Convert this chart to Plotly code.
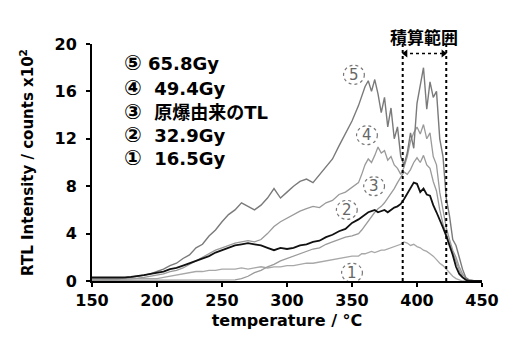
import plotly.graph_objects as go

temperature = [150, 155, 160, 165, 170, 175, 180, 185, 190, 195, 200, 205, 210, 215, 220, 225,
               230, 235, 240, 245, 250, 255, 260, 265, 270, 275, 280, 285, 290, 295, 300, 305,
               310, 315, 320, 325, 330, 335, 340, 345, 350, 355,
               357.5, 360, 362.5, 365, 367.5, 370, 372.5, 375, 377.5, 380, 382.5, 385, 387.5,
               390, 392.5, 395, 397.5, 400, 402.5, 405, 407.5, 410, 412.5, 415, 417.5, 420,
               422.5, 425, 427.5, 430, 432.5, 435, 437.5, 440, 445, 450]

s5_658 = [0.2, 0.2, 0.2, 0.15, 0.2, 0.25, 0.3, 0.4, 0.5, 0.6, 0.8, 1.0, 1.3, 1.5, 1.9, 2.2,
          2.8, 3.1, 3.8, 4.3, 5.0, 5.6, 6.0, 6.6, 6.3, 6.0, 6.4, 7.0, 7.8, 7.0, 7.5, 8.0,
          8.4, 8.6, 8.3, 9.0, 9.6, 10.3, 11.4, 12.4, 13.5, 14.8,
          15.6, 16.4, 16.9, 16.0, 17.0, 15.8, 14.2, 15.5, 13.0, 14.6, 12.0, 13.0, 10.5,
          9.8, 10.8, 12.5, 11.2, 15.0, 16.5, 18.0, 14.5, 16.8, 15.5, 16.0, 12.0, 10.5,
          7.0, 5.5, 3.5, 3.0, 2.0, 1.0, 0.3, 0.1, 0.0, 0.0]

s4_494 = [0.2, 0.2, 0.2, 0.2, 0.2, 0.2, 0.2, 0.25, 0.3, 0.4, 0.5, 0.6, 0.8, 0.9, 1.1, 1.4,
          1.7, 2.0, 2.3, 2.6, 2.8, 3.0, 3.2, 3.3, 3.4, 3.3, 3.5, 4.0, 4.6, 5.0, 5.3, 5.6,
          5.9, 6.1, 6.3, 6.2, 6.6, 6.8, 7.3, 7.5, 7.9, 8.3,
          9.0, 9.8, 10.3, 10.0, 10.6, 11.3, 10.8, 11.0, 10.2, 10.5, 9.8, 9.5, 9.0,
          9.6, 10.5, 11.8, 12.5, 13.0, 12.4, 13.2, 12.0, 12.5, 10.5, 9.8, 7.5, 6.0,
          4.5, 3.5, 2.6, 2.0, 1.2, 0.6, 0.2, 0.1, 0.0, 0.0]

s3_abomb = [0.3, 0.3, 0.25, 0.3, 0.3, 0.3, 0.35, 0.4, 0.5, 0.6, 0.7, 0.8, 1.0, 1.1, 1.3, 1.5,
            1.7, 1.9, 2.1, 2.4, 2.6, 2.8, 3.0, 3.1, 3.2, 3.1, 3.0, 2.8, 2.6, 2.8, 2.7, 2.8,
            3.0, 3.1, 3.3, 3.4, 3.7, 3.9, 4.2, 4.4, 4.9, 5.2,
            5.4, 5.6, 5.8, 5.9, 6.0, 5.8, 5.9, 6.0, 5.8, 6.0, 6.2, 6.3, 6.5,
            6.9, 7.4, 7.8, 8.3, 8.2, 7.5, 7.8, 7.3, 7.2, 6.4, 5.8, 5.2, 4.5,
            3.8, 3.0, 2.2, 1.2, 0.6, 0.3, 0.1, 0.0, 0.0, 0.0]

s2_329 = [0.05, 0.05, 0.05, 0.05, 0.05, 0.05, 0.05, 0.05, 0.05, 0.05, 0.05, 0.05, 0.05, 0.05, 0.05, 0.05,
          0.05, 0.05, 0.05, 0.05, 0.05, 0.05, 0.1, 0.2, 0.4, 0.7, 0.9, 1.2, 1.4, 1.7, 1.9, 2.1,
          2.3, 2.5, 2.7, 2.8, 3.1, 3.3, 3.5, 3.7, 3.8, 4.0,
          4.3, 4.7, 5.0, 5.4, 5.8, 6.1, 6.3, 6.6, 7.0, 7.3, 7.8, 8.3, 8.8,
          9.2, 9.0, 9.4, 10.0, 10.4, 10.0, 10.6, 9.8, 9.5, 8.4, 7.6, 6.0, 4.8,
          4.0, 3.2, 2.5, 1.6, 0.9, 0.4, 0.1, 0.0, 0.0, 0.0]

s1_165 = [0.1, 0.1, 0.1, 0.15, 0.1, 0.15, 0.15, 0.2, 0.2, 0.2, 0.2, 0.3, 0.4, 0.5, 0.6, 0.7,
          0.8, 0.8, 0.9, 0.9, 1.0, 1.0, 1.0, 1.1, 1.0, 1.1, 1.2, 1.1, 1.2, 1.2, 1.3, 1.3,
          1.4, 1.5, 1.5, 1.6, 1.7, 1.8, 1.9, 2.0, 2.1, 2.1,
          2.3, 2.3, 2.4, 2.5, 2.4, 2.5, 2.6, 2.6, 2.7, 2.8, 2.9, 3.0, 3.1,
          3.3, 3.2, 3.0, 3.1, 2.9, 2.8, 2.6, 2.5, 2.3, 2.1, 1.8, 1.5, 1.3,
          1.0, 0.7, 0.4, 0.2, 0.1, 0.0, 0.0, 0.0, 0.0, 0.0]

legend_marks = ["⑤", "④", "③", "②", "①"]
legend_texts = ["65.8Gy", " 49.4Gy", " 原爆由来のTL", " 32.9Gy", " 16.5Gy"]
legend_y = [18.4, 16.3, 14.3, 12.3, 10.4]

curve_labels = ["5", "4", "3", "2", "1"]
curve_label_x = [351.5, 361.5, 367, 346, 350]
curve_label_y = [17.4, 12.3, 8.0, 6.0, 0.7]

x_ticks = [150, 200, 250, 300, 350, 400, 450]
y_ticks = [0, 4, 8, 12, 16, 20]

range_lo, range_hi = 389, 422.5
range_arrow_y = 19.2

FONT = "DejaVu Sans, Noto Sans CJK JP, sans-serif"
CJK = "Noto Sans CJK JP, sans-serif"

fig = go.Figure()
series = [
    (s1_165, "#a8a8a8", 1.3),
    (s2_329, "#9a9a9a", 1.3),
    (s4_494, "#9a9a9a", 1.3),
    (s5_658, "#7a7a7a", 1.4),
    (s3_abomb, "#111111", 1.8),
]
for ys, col, w in series:
    fig.add_trace(go.Scatter(x=temperature, y=ys, mode="lines",
                             line=dict(color=col, width=w), showlegend=False,
                             hoverinfo="skip"))

# integration range lines
for xv, top in [(range_lo, 20.3), (range_hi, 20.8)]:
    fig.add_shape(type="line", x0=xv, x1=xv, y0=0, y1=top, xref="x", yref="y",
                  line=dict(color="black", width=2, dash="dot"))
fig.add_shape(type="line", x0=range_lo + 1, x1=range_hi - 1, y0=range_arrow_y, y1=range_arrow_y,
              xref="x", yref="y", line=dict(color="black", width=1.5, dash="dot"))
fig.add_trace(go.Scatter(x=[range_lo + 2.2, range_hi - 2.2], y=[range_arrow_y, range_arrow_y],
                         mode="markers", showlegend=False, hoverinfo="skip",
                         marker=dict(symbol=["triangle-left", "triangle-right"], size=7,
                                     color="black", line=dict(width=0))))
fig.add_annotation(x=(range_lo + range_hi) / 2, y=1.093, xref="x", yref="paper",
                   text="<b>積算範囲</b>", showarrow=False,
                   font=dict(family=CJK, size=17, color="black"))

# legend block
for mk, txt, yv in zip(legend_marks, legend_texts, legend_y):
    fig.add_annotation(x=173, y=yv, xref="x", yref="y",
                       text="<b><span style='font-size:21px'>" + mk + "</span> " + txt + "</b>",
                       showarrow=False, xanchor="left", yanchor="middle",
                       font=dict(family=FONT, size=18, color="black"))

# curve labels in dotted circles
for lab, xv, yv in zip(curve_labels, curve_label_x, curve_label_y):
    fig.add_shape(type="circle", x0=xv - 8, x1=xv + 8, y0=yv - 0.8, y1=yv + 0.8,
                  xref="x", yref="y", line=dict(color="#777777", width=1.2, dash="dot"))
    fig.add_annotation(x=xv, y=yv, xref="x", yref="y", text=lab, showarrow=False,
                       font=dict(family=FONT, size=15, color="#666666"))

fig.update_layout(
    width=511, height=345,
    margin=dict(l=92, r=27, t=44, b=64),
    paper_bgcolor="white", plot_bgcolor="white",
    font=dict(family=FONT, color="black"),
)
fig.update_xaxes(range=[150, 450], tickvals=x_ticks, ticktext=[str(v) for v in x_ticks],
                 showline=True, linecolor="black", linewidth=2, ticks="outside",
                 ticklen=4, tickwidth=2, tickcolor="black", showgrid=False, zeroline=False,
                 tickfont=dict(family=FONT, size=16, weight="bold"),
                 title=dict(text="<b>temperature / °C</b>", font=dict(family=FONT, size=16),
                            standoff=6))
fig.update_yaxes(range=[0, 20], tickvals=y_ticks, ticktext=[str(v) for v in y_ticks],
                 showline=True, linecolor="black", linewidth=2, ticks="outside",
                 ticklen=4, tickwidth=2, tickcolor="black", showgrid=False, zeroline=False,
                 tickfont=dict(family=FONT, size=16, weight="bold"), ticklabelstandoff=6,
                 title=dict(text="<b>RTL Intensity / counts x10<sup>2</sup></b>",
                            font=dict(family=FONT, size=15), standoff=17))

fig.write_html("out.html")
